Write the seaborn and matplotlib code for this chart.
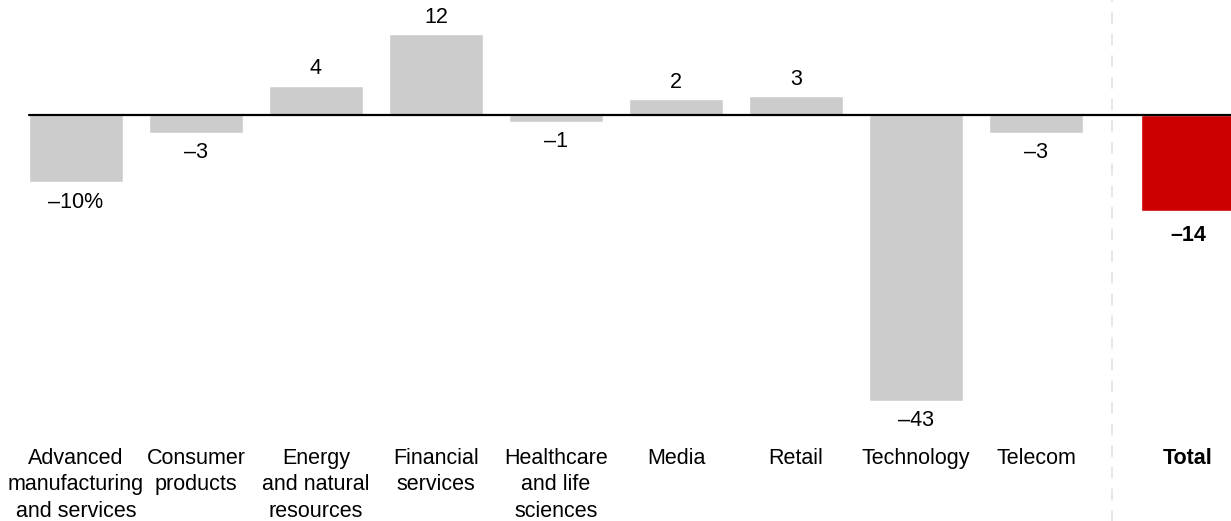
import matplotlib
matplotlib.use("Agg")
import matplotlib.pyplot as plt
import seaborn as sns
import pandas as pd
import numpy as np

categories = ["Advanced\nmanufacturing\nand services", "Consumer\nproducts",
              "Energy\nand natural\nresources", "Financial\nservices",
              "Healthcare\nand life\nsciences", "Media", "Retail",
              "Technology", "Telecom", "Total"]
values = [-10.0, -2.6, 4.45, 12.1, -0.95, 2.4, 2.85, -42.7, -2.6, -14.4]
labels = ["–10%", "–3", "4", "12", "–1", "2", "3", "–43", "–3", "–14"]
kinds = ["sector"] * 9 + ["total"]

sns.set_theme(style="white")
plt.rcParams["font.family"] = ["Liberation Sans", "DejaVu Sans"]
plt.rcParams["text.color"] = "black"
plt.rcParams["xtick.color"] = "black"

positions = list(np.arange(9, dtype=float)) + [9.267]
df = pd.DataFrame({"pos": positions, "value": values, "kind": kinds})

fig = plt.figure(figsize=(12.31, 5.21), dpi=100)
ax = fig.add_axes([0, (521 - 440) / 521, 1, 440 / 521])

sns.barplot(data=df, x="pos", y="value", hue="kind", native_scale=True,
            palette={"sector": "#cccccc", "total": "#cc0000"},
            width=0.785, dodge=False, legend=False, ax=ax, saturation=1)

scale = 6.68
ax.set_xlim(-76 / 120, (1231 - 76) / 120)
ax.set_ylim(-(440 - 115.3) / scale, 115.3 / scale)

ax.axhline(0, xmin=29 / 1231, xmax=1, color="black", lw=1.6, zorder=5)
ax.axvline(8.633, ymin=-0.2, ymax=1, color="#e3e3e3", lw=1.2,
           dashes=(7, 6), clip_on=False, zorder=0)

for x, v, lab, k in zip(positions, values, labels, kinds):
    bold = "bold" if k == "total" else "normal"
    if v >= 0:
        ax.annotate(lab, (x, v), xytext=(0, 4.5), textcoords="offset points",
                    ha="center", va="bottom", fontsize=15.5, fontweight=bold)
    else:
        off = -10 if k == "total" else -7
        ax.annotate(lab, (x, v), xytext=(0, off), textcoords="offset points",
                    ha="center", va="top", fontsize=15.5, fontweight=bold)

ax.set_xticks(positions)
ax.set_xticklabels(categories, fontsize=15.5, linespacing=1.32, va="top")
for t, k in zip(ax.get_xticklabels(), kinds):
    if k == "total":
        t.set_fontweight("bold")
ax.tick_params(axis="x", length=0, pad=6)
ax.set_yticks([])
ax.set_xlabel("")
ax.set_ylabel("")
for s in ax.spines.values():
    s.set_visible(False)

fig.savefig("out.png", dpi=100)
